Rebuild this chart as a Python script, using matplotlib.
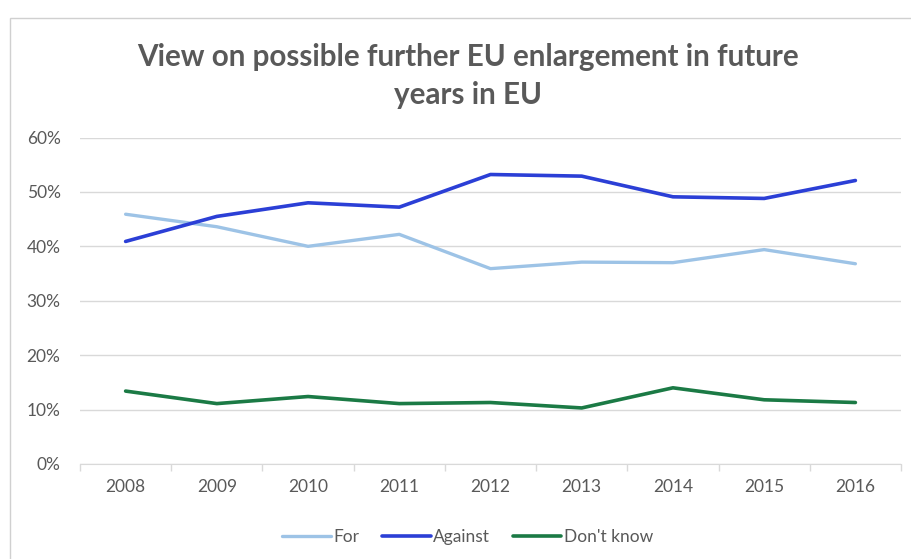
import numpy as np
import matplotlib.pyplot as plt
from matplotlib.patches import Rectangle
from matplotlib.ticker import FuncFormatter

# ---- Data ----
years = ["2008", "2009", "2010", "2011", "2012", "2013", "2014", "2015", "2016"]
for_share = [0.459, 0.436, 0.400, 0.422, 0.359, 0.371, 0.370, 0.394, 0.368]
against_share = [0.409, 0.455, 0.480, 0.472, 0.532, 0.529, 0.491, 0.488, 0.521]
dont_know_share = [0.134, 0.111, 0.124, 0.111, 0.113, 0.103, 0.140, 0.118, 0.113]

series_names = ["For", "Against", "Don't know"]
colors = ["#9DC3E6", "#2B3FD6", "#1B7A45"]

plt.rcParams["font.family"] = ["Lato", "DejaVu Sans"]
text_gray = "#595959"

fig = plt.figure(figsize=(9.12, 5.59), dpi=100)
ax = fig.add_axes([80 / 912, 1 - 464 / 559, (901 - 80) / 912, (464 - 137.5) / 559])

x = np.arange(len(years))
lines = []
for vals, name, col, lw in zip([for_share, against_share, dont_know_share],
                               series_names, colors, [2.4, 2.6, 2.6]):
    ln, = ax.plot(x, vals, color=col, lw=lw, label=name, solid_capstyle="round",
                  solid_joinstyle="round")
    lines.append(ln)

ax.set_xlim(-0.5, len(years) - 0.5)
ax.set_ylim(0, 0.6)
ax.set_yticks(np.arange(0, 0.61, 0.1))
ax.yaxis.set_major_formatter(FuncFormatter(lambda v, p: f"{v * 100:.0f}%"))
ax.grid(axis="y", color="#D9D9D9", lw=1)
ax.set_axisbelow(True)

# category labels at centres, tick marks at boundaries
ax.set_xticks(x)
ax.set_xticklabels(years)
ax.set_xticks(np.arange(-0.5, len(years)), minor=True)
ax.tick_params(axis="x", which="major", length=0, pad=11, labelsize=12.5, labelcolor=text_gray)
ax.tick_params(axis="x", which="minor", length=5, color="#D9D9D9", width=1)
ax.tick_params(axis="y", length=0, pad=14, labelsize=12.5, labelcolor=text_gray)

for side in ["top", "right", "left"]:
    ax.spines[side].set_visible(False)
ax.spines["bottom"].set_color("#D9D9D9")

fig.text(0.513, 1 - 57 / 559, "View on possible further EU enlargement in future",
         ha="center", va="center", fontsize=21.3, color=text_gray, fontweight="bold")
fig.text(0.513, 1 - 95 / 559, "years in EU",
         ha="center", va="center", fontsize=21.3, color=text_gray, fontweight="bold")

fig.legend(handles=lines, loc="center", bbox_to_anchor=(0.513, 1 - 537 / 559),
           ncol=3, frameon=False, fontsize=12.5, labelcolor=text_gray,
           handlelength=2.8, handletextpad=0.15, columnspacing=1.3)

# chart area border
fig.patches.append(Rectangle((10 / 912, -0.1), 1.2, 1 - 18 / 559 + 0.1,
                             transform=fig.transFigure, fill=False,
                             edgecolor="#D0D0D0", lw=1))

fig.savefig("out.png", dpi=100)
